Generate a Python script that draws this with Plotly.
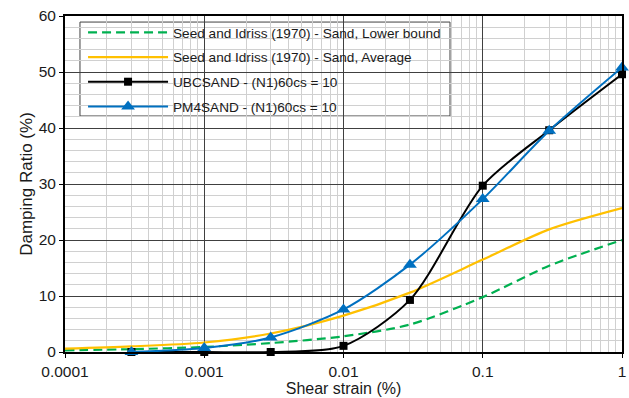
import plotly.graph_objects as go

# Shear strain (%) sample points
strain_seed = [0.0001, 0.0003, 0.001, 0.003, 0.01, 0.03, 0.1, 0.3, 1]
seed_lower = [0.3, 0.5, 0.9, 1.6, 2.8, 4.9, 9.8, 15.4, 20.0]
seed_avg = [0.6, 1.0, 1.7, 3.3, 6.5, 10.6, 16.5, 21.9, 25.7]

strain_models = [0.0003, 0.001, 0.003, 0.01, 0.03, 0.1, 0.3, 1]
ubcsand = [0.0, 0.0, 0.0, 1.1, 9.3, 29.7, 39.6, 49.6]
pm4sand = [0.0, 0.7, 2.6, 7.6, 15.6, 27.3, 39.5, 50.8]

x_ticks = [0.0001, 0.001, 0.01, 0.1, 1]
x_tick_text = ["0.0001", "0.001", "0.01", "0.1", "1"]

FONT = "Liberation Sans, Arial, sans-serif"
TEXT = "#1a1a1a"

fig = go.Figure()
fig.add_trace(go.Scatter(
    x=strain_seed, y=seed_lower, mode="lines",
    name="Seed and Idriss (1970) - Sand, Lower bound", legendgroup="a",
    line=dict(color="#00B050", width=2.2, dash="9px,5px", shape="spline", smoothing=0.8),
))
fig.add_trace(go.Scatter(
    x=strain_seed, y=seed_avg, mode="lines",
    name="Seed and Idriss (1970) - Sand, Average", legendgroup="b",
    line=dict(color="#FFC000", width=2.2, shape="spline", smoothing=0.8),
))
fig.add_trace(go.Scatter(
    x=strain_models, y=ubcsand, mode="lines+markers",
    name="UBCSAND - (N1)60cs = 10", legendgroup="c", cliponaxis=False,
    line=dict(color="#000000", width=2, shape="spline", smoothing=0.8),
    marker=dict(symbol="square", size=8, color="#000000"),
))
fig.add_trace(go.Scatter(
    x=strain_models, y=pm4sand, mode="lines+markers",
    name="PM4SAND - (N1)60cs = 10", legendgroup="d", cliponaxis=False,
    line=dict(color="#0070C0", width=2, shape="spline", smoothing=0.8),
    marker=dict(symbol="triangle-up", size=12, color="#0070C0"),
))

# White framed box behind the legend entries (covers the grid, sits under the traces)
fig.add_shape(
    type="rect", xref="paper", yref="paper",
    x0=0.0269, x1=0.6912, y0=0.7024, y1=0.982,
    fillcolor="white", line=dict(color="#404040", width=1), layer="between",
)

fig.update_layout(
    width=629, height=398,
    margin=dict(l=65, r=7, t=16, b=46),
    paper_bgcolor="white", plot_bgcolor="white",
    font=dict(family=FONT, size=15.5, color=TEXT),
    showlegend=True,
    legend=dict(
        x=0.0324, y=0.997, xanchor="left", yanchor="top",
        bgcolor="rgba(0,0,0,0)", borderwidth=0,
        font=dict(family=FONT, size=13.6, color=TEXT),
        tracegroupgap=4, itemwidth=80,
    ),
)
fig.update_xaxes(
    type="log", range=[-4, 0], automargin=False,
    tickvals=x_ticks, ticktext=x_tick_text,
    tickfont=dict(size=15.5),
    showgrid=True, gridcolor="#404040", gridwidth=1,
    minor=dict(dtick="D1", showgrid=True, gridcolor="#d0d0d0", gridwidth=1, ticks=""),
    showline=True, linecolor="#000000", linewidth=2, mirror=True,
    ticks="outside", ticklen=4, tickcolor="#000000",
    title=dict(text="Shear strain (%)", font=dict(size=16), standoff=2),
    zeroline=False,
)
fig.update_yaxes(
    range=[0, 60], dtick=10, automargin=False,
    tickfont=dict(size=15.5),
    showgrid=True, gridcolor="#404040", gridwidth=1,
    minor=dict(dtick=2, showgrid=True, gridcolor="#d0d0d0", gridwidth=1, ticks=""),
    showline=True, linecolor="#000000", linewidth=2, mirror=True,
    ticks="outside", ticklen=4, tickcolor="#000000",
    title=dict(text="Damping Ratio (%)", font=dict(size=17), standoff=2),
    zeroline=False,
)

fig.write_html("out.html")
